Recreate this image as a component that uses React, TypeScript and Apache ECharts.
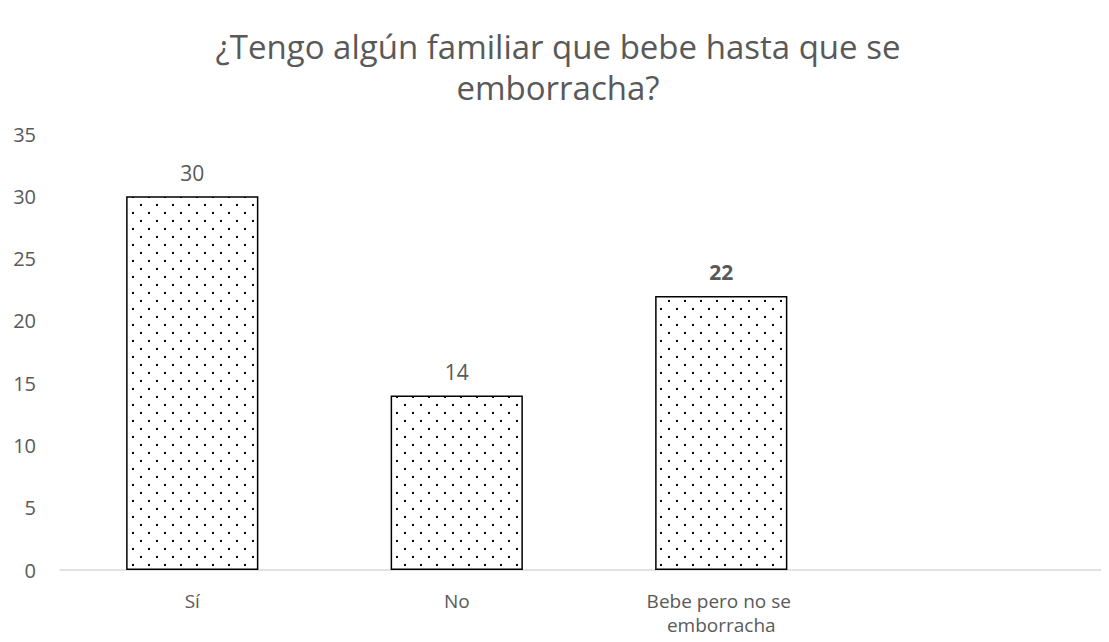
import React, { useEffect, useRef } from "react";
import * as echarts from "echarts";

const titleText = "¿Tengo algún familiar que bebe hasta que se\nemborracha?";
const categories = ["Sí", "No", "Bebe pero no se emborracha", ""];
const values: (number | null)[] = [30, 14, 22, null];
const boldLabelIndex = [2];
const yTicks = { min: 0, max: 35, interval: 5 };

function makePattern(): HTMLCanvasElement {
  const c = document.createElement("canvas");
  c.width = 16;
  c.height = 16;
  const ctx = c.getContext("2d")!;
  ctx.fillStyle = "#ffffff";
  ctx.fillRect(0, 0, 16, 16);
  ctx.fillStyle = "#000000";
  ctx.fillRect(4, 4, 2, 2);
  ctx.fillRect(12, 12, 2, 2);
  return c;
}

export default function App() {
  const ref = useRef<HTMLDivElement>(null);
  useEffect(() => {
    if (!ref.current) return;
    const chart = echarts.init(ref.current, undefined, { renderer: "svg" });
    const pattern = makePattern();
    const font = "'Open Sans', 'Noto Sans', sans-serif";
    chart.setOption({
      animation: false,
      backgroundColor: "#ffffff",
      title: {
        text: titleText,
        left: 553,
        textAlign: "center",
        top: 21,
        textStyle: {
          fontFamily: font,
          fontSize: 33,
          fontWeight: "normal",
          color: "#595959",
          lineHeight: 41,
        },
      },
      grid: { left: 60, right: 0, top: 134, bottom: 72, containLabel: false },
      xAxis: {
        type: "category",
        data: categories,
        axisLine: { lineStyle: { color: "#d9d9d9", width: 1.5 } },
        axisTick: { show: false },
        axisLabel: {
          fontFamily: font,
          fontSize: 19,
          color: "#595959",
          margin: 19,
          width: 180,
          overflow: "break",
          lineHeight: 24,
          interval: 0,
        },
      },
      yAxis: {
        type: "value",
        min: yTicks.min,
        max: yTicks.max,
        interval: yTicks.interval,
        splitLine: { show: false },
        axisLine: { show: false },
        axisTick: { show: false },
        axisLabel: {
          fontFamily: font,
          fontSize: 20,
          color: "#595959",
          margin: 24,
        },
      },
      series: [
        {
          type: "bar",
          data: values.map((v, i) => ({
            value: v,
            label: {
              fontWeight: boldLabelIndex.includes(i) ? "bold" : "normal",
            },
          })),
          barWidth: "50%",
          itemStyle: {
            color: { image: pattern, repeat: "repeat" },
            borderColor: "#000000",
            borderWidth: 1.5,
          },
          label: {
            show: true,
            position: "top",
            distance: 13,
            fontFamily: font,
            fontSize: 21,
            color: "#595959",
          },
        },
      ],
    });
    return () => chart.dispose();
  }, []);
  return (
    <div style={{ width: 1109, height: 642, margin: -8, overflow: "hidden", position: "relative" }}>
      <div ref={ref} style={{ width: 1118, height: 642 }} />
    </div>
  );
}
